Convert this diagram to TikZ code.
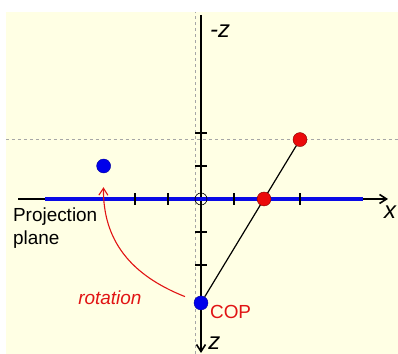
\documentclass[tikz,border=0pt]{standalone}
\usepackage{fontspec}
\setmainfont{Liberation Sans}
\usetikzlibrary{arrows.meta}
\definecolor{paper}{RGB}{255,255,228}
\definecolor{planeblue}{RGB}{10,10,230}
\definecolor{dotblue}{RGB}{0,0,235}
\definecolor{dotred}{RGB}{235,10,10}
\definecolor{ptred}{RGB}{225,20,20}
\tikzset{
  >={Straight Barb[length=7bp,width=9bp]},
  txt/.style={font=\fontsize{19}{23}\selectfont},
  axlab/.style={font=\fontsize{24}{28}\selectfont\itshape, inner sep=0pt},
  axis/.style={line width=1.6bp},
  tickmark/.style={line width=1.5bp},
  plane/.style={line width=4.5bp, planeblue},
  guide/.style={gray!70, dashed, line width=0.5bp},
  bluedot/.style={circle, fill=dotblue, draw=blue!60!black, minimum size=14bp, inner sep=0pt},
  reddot/.style={circle, fill=dotred, draw=red!50!black, minimum size=14bp, inner sep=0pt},
  origin/.style={circle, draw, line width=0.6bp, minimum size=12bp, inner sep=0pt},
  rotarrow/.style={->, ptred, line width=1.1bp, shorten <=10bp, shorten >=14bp}
}
\begin{document}
\begin{tikzpicture}[x=33bp,y=33bp]
\useasboundingbox (-6.091,-4.697) rectangle (5.970,6.030);
% background
\fill[paper] (-5.909,-4.697) rectangle (5.970,5.667);

% guide lines
\draw[guide] (-0.164,-4.697) -- (-0.164,5.667);
\draw[guide] (-5.909,1.81) -- (5.970,1.81);

% axes
\coordinate (xl) at (-5.545,0);
\coordinate (xr) at (5.667,0);
\coordinate (zt) at (0,5.576);
\coordinate (zb) at (0,-4.667);
\draw[axis,->] (xl) -- (xr);
\draw[axis,->] (zt) -- (zb);

% projection plane
\draw[plane] (-4.727,0) -- (4.909,0);

% ticks
\foreach \t in {-2,-1,1,2,3}
  \draw[tickmark] (\t,-0.18) -- (\t,0.18);
\foreach \t in {-2,-1,1,2}
  \draw[tickmark] (-0.18,\t) -- (0.18,\t);

% points
\node[origin] (o) at (0,0) {};
\node[bluedot] (cop) at (0,-3.15) {};
\node[reddot] (far) at (3,1.8) {};
\draw[line width=1.2bp] (cop) -- (far);
\node[reddot] (proj) at (1.91,0) {};
\node[bluedot] (rot) at (-2.95,1.0) {};

% rotation
\draw[rotarrow] (cop) .. controls (-2.15,-2.30) and (-2.97,-1.24) .. (rot);

% labels
\node[axlab, anchor=west] (mz) at (0.27,5.10) {-z};
\node[axlab] (xlab) at (5.73,-0.40) {x};
\node[axlab, anchor=west] (zlab) at (0.22,-4.38) {z};
\node[txt, anchor=west, inner sep=0pt, ptred] (coplab) at (0.27,-3.42) {COP};
\node[txt, inner sep=0pt, ptred] (rotlab) at (-2.76,-3.0) {\itshape rotation};
\node[txt, anchor=north west, align=left, inner sep=0pt] (pp) at (-5.70,-0.26) {Projection\\plane};
\end{tikzpicture}
\end{document}
